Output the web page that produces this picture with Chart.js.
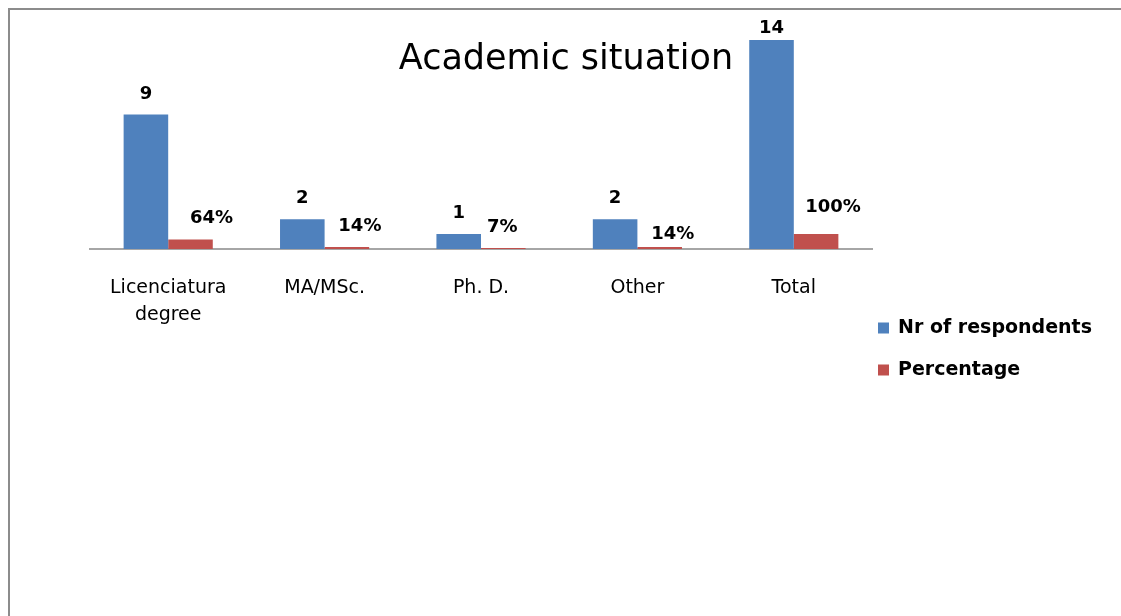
<!DOCTYPE html>
<html>
<head>
<meta charset="utf-8">
<title>Academic situation</title>
<script src="https://cdn.jsdelivr.net/npm/chart.js@4.4.1/dist/chart.umd.min.js"></script>
<style>
  html, body { margin: 0; padding: 0; background: #fff; }
  #wrap { position: relative; width: 1121px; height: 616px; overflow: hidden; }
  #frame {
    position: absolute; left: 8px; top: 8px; width: 1200px; height: 700px;
    border-left: 2px solid #8c8c8c; border-top: 2px solid #8c8c8c;
    box-sizing: border-box;
  }
  canvas { position: absolute; left: 0; top: 0; }
</style>
</head>
<body>
<div id="wrap">
  <div id="frame"></div>
  <canvas id="c" width="1121" height="616"></canvas>
</div>
<script>
// Chart content
const chartTitle = 'Academic situation';
const categories = [['Licenciatura', 'degree'], 'MA/MSc.', 'Ph. D.', 'Other', 'Total'];
const seriesNames = ['Nr of respondents', 'Percentage'];
const respondents = [9, 2, 1, 2, 14];
const percentages = [0.64, 0.14, 0.07, 0.14, 1.00];

// Hand-placed offsets of the percentage labels (pixels, dx/dy)
const pctLabelNudge = [[8, 0], [0, 0], [-14, 0], [0, 8], [4, -6]];

const BLUE = '#4F81BD';
const RED = '#C0504D';
const FONT = "'DejaVu Sans', sans-serif";

// Value labels above each bar, kept inside the plot area
const valueLabels = {
  id: 'valueLabels',
  afterDatasetsDraw(chart) {
    const ctx = chart.ctx;
    ctx.save();
    ctx.font = 'bold 18px ' + FONT;
    ctx.fillStyle = '#000';
    ctx.textBaseline = 'alphabetic';
    ctx.textAlign = 'center';
    const topLimit = chart.chartArea.top + 23;
    chart.data.datasets.forEach((ds, di) => {
      chart.getDatasetMeta(di).data.forEach((bar, i) => {
        const v = ds.data[i];
        if (di === 0) {
          ctx.fillText(String(v), bar.x, Math.max(bar.y - 16, topLimit));
        } else {
          const [dx, dy] = pctLabelNudge[i];
          ctx.fillText(Math.round(v * 100) + '%', bar.x + 13 + dx, bar.y - 16 + dy);
        }
      });
    });
    ctx.restore();
  }
};

// Title and legend drawn over the canvas
const decorations = {
  id: 'decorations',
  afterDraw(chart) {
    const ctx = chart.ctx;
    ctx.save();
    ctx.fillStyle = '#000';
    ctx.font = '35px ' + FONT;
    ctx.textAlign = 'center';
    ctx.textBaseline = 'alphabetic';
    ctx.fillText(chartTitle, 566, 69);

    ctx.font = 'bold 19px ' + FONT;
    ctx.textAlign = 'left';
    ctx.textBaseline = 'middle';
    chart.data.datasets.forEach((ds, i) => {
      const y = 328 + i * 42;
      ctx.fillStyle = ds.backgroundColor;
      ctx.fillRect(878, y - 5.5, 11, 11);
      ctx.fillStyle = '#000';
      ctx.fillText(ds.label, 898, y);
    });
    ctx.restore();
  }
};

new Chart(document.getElementById('c'), {
  type: 'bar',
  data: {
    labels: categories,
    datasets: [
      { label: seriesNames[0], data: respondents, backgroundColor: BLUE },
      { label: seriesNames[1], data: percentages, backgroundColor: RED }
    ]
  },
  options: {
    responsive: false,
    animation: false,
    events: [],
    layout: { padding: { left: 90, right: 249, top: 10, bottom: 0 } },
    datasets: { bar: { categoryPercentage: 0.57, barPercentage: 1.0 } },
    scales: {
      x: {
        grid: { display: false, drawTicks: false },
        border: { display: true, color: '#a6a6a6', width: 2 },
        ticks: {
          color: '#000',
          font: { family: FONT, size: 19, lineHeight: 1.42 },
          padding: 26,
          maxRotation: 0,
          autoSkip: false
        },
        afterFit(scale) { scale.height = 367; }
      },
      y: { display: false, min: 0, max: 16 }
    },
    plugins: {
      legend: { display: false },
      title: { display: false },
      tooltip: { enabled: false }
    }
  },
  plugins: [valueLabels, decorations]
});
</script>
</body>
</html>
